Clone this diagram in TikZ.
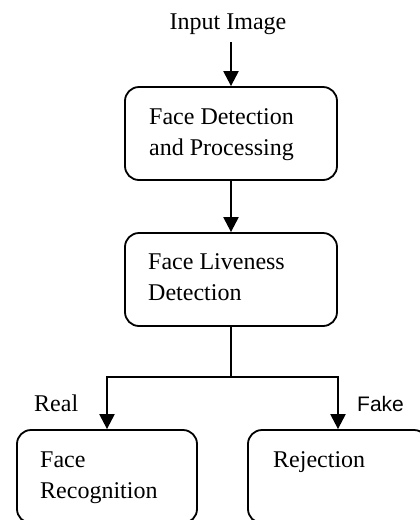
\documentclass[tikz,border=0pt]{standalone}
\usepackage{fontspec}
\setmainfont{Liberation Serif}
\newfontfamily\sansfont{Liberation Sans}
\usetikzlibrary{arrows.meta}
\begin{document}
\begin{tikzpicture}[x=1pt,y=-1pt,
  box/.style={draw, line width=1.8pt, rounded corners=14pt, minimum width=#1, minimum height=93pt, inner sep=0pt},
  box/.default=212pt,
  lbl/.style={anchor=base west, inner sep=0pt, font=\fontsize{24}{31}\selectfont, align=left},
  arr/.style={line width=2.2pt, -{Triangle[length=15pt,width=15pt]}},
  plain/.style={line width=1.8pt}]
\useasboundingbox (0,0) rectangle (420,520);
% boxes
\node[box] (b1) at (231,133.5) {};
\node[box] (b2) at (231,279.5) {};
\node[box=180pt] (b3) at (107,476.5) {};
\node[box=180pt] (b4) at (338,476.5) {};
% texts (base anchor = last line's baseline)
\node[lbl, anchor=base] (tin) at (228,29) {Input Image};
\node[lbl] (t1) at (149,155) {Face Detection\\and Processing};
\node[lbl] (t2) at (148,300) {Face Liveness\\Detection};
\node[lbl] (t3) at (40,498) {Face\\Recognition};
\node[lbl] (t4) at (273,467) {Rejection};
\node[lbl] (treal) at (34,411) {Real};
\node[anchor=base west, inner sep=0pt, font=\sansfont\fontsize{21}{25}\selectfont] (tfake) at (357,411) {Fake};
% connectors
\coordinate (c0) at (231,42);
\coordinate (j) at (231,377);
\draw[arr] (c0) -- (b1.north);
\draw[arr] (b1.south) -- (b2.north);
\draw[plain] (b2.south) -- (j);
\draw[arr] (j) -| (b3.north);
\draw[arr] (j) -| (b4.north);
\end{tikzpicture}
\end{document}
